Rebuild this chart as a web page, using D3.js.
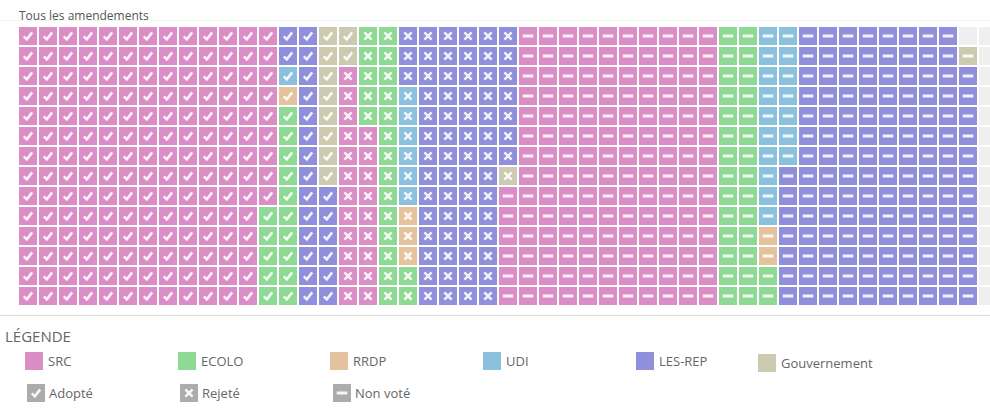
<!DOCTYPE html>
<html>
<head>
<meta charset="utf-8">
<script src="https://cdn.jsdelivr.net/npm/d3@7"></script>
<style>
  html, body { margin: 0; padding: 0; background: #fff; }
  svg { display: block; font-family: "Open Sans", sans-serif; }
</style>
</head>
<body>
<svg id="chart" width="990" height="408"></svg>
<script>
// ---- data ----
const title = "Tous les amendements";
const groups = ["SRC", "ECOLO", "RRDP", "UDI", "LES-REP", "Gouvernement"];
const outcomes = ["Adopté", "Rejeté", "Non voté"];
const adopted = [177, 15, 1, 1, 22, 10];
const rejected = [21, 21, 3, 6, 66, 1];
const nonVote = [146, 30, 2, 17, 131, 1];
const legendTitle = "LÉGENDE";

// ---- styles ----
const groupColors = ["#db8ec6", "#8ed993", "#e3c29d", "#8cc1de", "#8f8fdb", "#cccbb1"];
const nRows = 14, nCols = 50;

const svg = d3.select("#chart");

// build cells
const countsByOutcome = [adopted, rejected, nonVote];
const cells = [];
countsByOutcome.forEach((counts, oi) => {
  counts.forEach((n, gi) => {
    for (let k = 0; k < n; k++) cells.push({ g: gi, o: oi });
  });
});
cells.forEach((d, i) => {
  const c = Math.floor(i / nRows);
  const r = i % nRows;
  d.col = c;
  d.row = (c % 2 === 0) ? r : nRows - 1 - r;
});

const x = d3.scaleBand().domain(d3.range(nCols)).range([18, 18 + 20 * nCols]).paddingInner(0.1).paddingOuter(0.05);
const y = d3.scaleBand().domain(d3.range(nRows)).range([26, 26 + 20 * nRows]).paddingInner(0.1).paddingOuter(0.05);
const color = d3.scaleOrdinal().domain(groups).range(groupColors);
const bw = x.bandwidth(), bh = y.bandwidth();

// title
svg.append("line").attr("x1", 0).attr("x2", 990).attr("y1", 20.5).attr("y2", 20.5)
  .attr("stroke", "#f4f4f4").attr("stroke-width", 1);
svg.append("text").attr("x", 19).attr("y", 20).attr("font-size", 12).attr("fill", "#555").text(title);

// background cells
const bg = [];
for (let c = 0; c < nCols; c++) for (let r = 0; r < nRows; r++) bg.push({ c, r });
svg.append("g").selectAll("rect").data(bg).join("rect")
  .attr("x", d => x(d.c)).attr("y", d => y(d.r))
  .attr("width", bw).attr("height", bh).attr("fill", "#efefef");

// symbol drawing
function symbolPath(o, cx, cy) {
  if (o === 0) {
    return `M${cx - 4.2},${cy + 0.3} L${cx - 1.2},${cy + 3.3} L${cx + 4.2},${cy - 3.6}`;
  } else if (o === 1) {
    return `M${cx - 3.6},${cy - 3.6} L${cx + 3.6},${cy + 3.6} M${cx + 3.6},${cy - 3.6} L${cx - 3.6},${cy + 3.6}`;
  } else {
    return `M${cx - 5.3},${cy} L${cx + 5.3},${cy}`;
  }
}

const cg = svg.append("g").selectAll("g").data(cells).join("g");
cg.append("rect")
  .attr("x", d => x(d.col)).attr("y", d => y(d.row))
  .attr("width", bw).attr("height", bh)
  .attr("fill", d => color(groups[d.g]));
cg.append("path")
  .attr("d", d => symbolPath(d.o, x(d.col) + bw / 2, y(d.row) + bh / 2))
  .attr("fill", "none").attr("stroke", "rgba(255,255,255,0.88)")
  .attr("stroke-width", d => d.o === 2 ? 3 : 2.6).attr("stroke-linecap", "butt").attr("stroke-linejoin", "miter");

// legend
svg.append("line").attr("x1", 0).attr("x2", 990).attr("y1", 315.5).attr("y2", 315.5)
  .attr("stroke", "#dcdcdc").attr("stroke-width", 1);
svg.append("text").attr("x", 5).attr("y", 342).attr("font-size", 15).attr("fill", "#666").text(legendTitle);

const gx = [25, 178, 330, 483, 636, 758];
const gy = [352, 352, 352, 352, 352, 354];
const lg = svg.append("g").selectAll("g").data(groups).join("g")
  .attr("transform", (d, i) => `translate(${gx[i]},${gy[i]})`);
lg.append("rect").attr("width", 18).attr("height", 18).attr("fill", d => color(d));
lg.append("text").attr("x", 23).attr("y", 14).attr("font-size", 13).attr("fill", "#666").text(d => d);

const ox = [27, 180, 333];
const lo = svg.append("g").selectAll("g").data(outcomes).join("g")
  .attr("transform", (d, i) => `translate(${ox[i]},384)`);
lo.append("rect").attr("width", 18).attr("height", 18).attr("fill", "#acacac");
lo.append("path").attr("d", (d, i) => symbolPath(i, 9, 9))
  .attr("fill", "none").attr("stroke", "rgba(255,255,255,0.9)")
  .attr("stroke-width", (d, i) => i === 2 ? 3 : 2.6);
lo.append("text").attr("x", 22).attr("y", 14).attr("font-size", 13).attr("fill", "#666").text(d => d);
</script>
</body>
</html>
